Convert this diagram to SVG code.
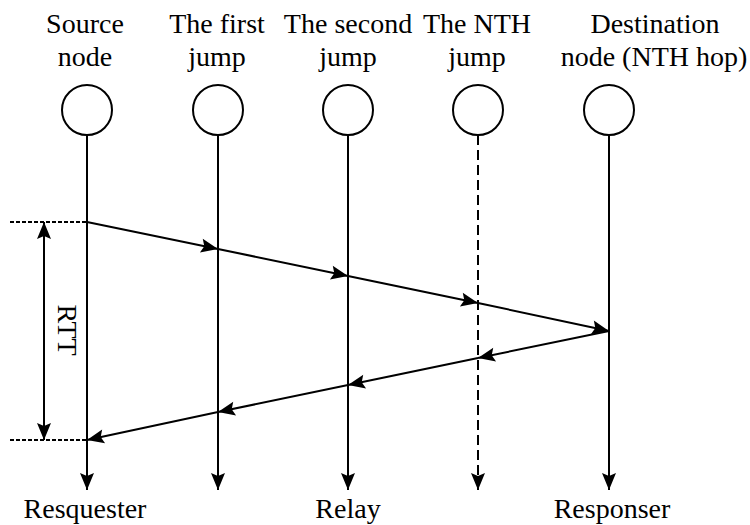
<svg xmlns="http://www.w3.org/2000/svg" width="750" height="525" viewBox="0 0 750 525">
<style>
.t{font-family:'Liberation Serif','DejaVu Serif',serif;font-size:28px;fill:#000;text-anchor:middle}
.c{fill:#fff;stroke:#000;stroke-width:2}
.l{stroke:#000;stroke-width:2;fill:none}
.d{stroke-dasharray:10 5}
.dot{stroke-dasharray:4 2}
</style>
<defs>
<marker id="ah" markerUnits="userSpaceOnUse" markerWidth="20" markerHeight="16" viewBox="-18 -8 20 16" refX="0" refY="0" orient="auto-start-reverse">
<path d="M0,0 L-17,-7 L-14,0 L-17,7 Z" fill="#000"/>
</marker>
</defs>
<rect width="750" height="525" fill="#fff"/>
<g id="n-source" class="t">
<text x="85" y="33">Source</text><text x="85" y="66">node</text>
<circle class="c" cx="87" cy="110" r="25"/>
</g>
<g id="n-first" class="t">
<text x="217" y="33">The first</text><text x="217" y="66">jump</text>
<circle class="c" cx="218" cy="110" r="25"/>
</g>
<g id="n-second" class="t">
<text x="348" y="33">The second</text><text x="348" y="66">jump</text>
<circle class="c" cx="348" cy="110" r="25"/>
</g>
<g id="n-nth" class="t">
<text x="477" y="33">The NTH</text><text x="477" y="66">jump</text>
<circle class="c" cx="478" cy="110" r="25"/>
</g>
<g id="n-dest" class="t">
<text x="655" y="33">Destination</text><text x="654" y="66">node (NTH hop)</text>
<circle class="c" cx="609" cy="110" r="25"/>
</g>
<g id="labels" class="t">
<text x="85" y="518">Resquester</text>
<text x="348" y="518">Relay</text>
<text x="612" y="518">Responser</text>
<text transform="translate(58,330) rotate(90)" x="0" y="0">RTT</text>
</g>
<g id="connectors">
<line class="l" x1="87" y1="135" x2="87" y2="490" marker-end="url(#ah)"/>
<line class="l" x1="218" y1="135" x2="218" y2="490" marker-end="url(#ah)"/>
<line class="l" x1="348" y1="135" x2="348" y2="490" marker-end="url(#ah)"/>
<line class="l d" x1="478" y1="135" x2="478" y2="490" marker-end="url(#ah)"/>
<line class="l" x1="609" y1="135" x2="609" y2="490" marker-end="url(#ah)"/>
<line class="l" x1="87" y1="222" x2="218" y2="249" marker-end="url(#ah)"/>
<line class="l" x1="218" y1="249" x2="348" y2="276" marker-end="url(#ah)"/>
<line class="l" x1="348" y1="276" x2="478" y2="303" marker-end="url(#ah)"/>
<line class="l" x1="478" y1="303" x2="609" y2="331" marker-end="url(#ah)"/>
<line class="l" x1="609" y1="331" x2="478" y2="358" marker-end="url(#ah)"/>
<line class="l" x1="478" y1="358" x2="348" y2="385" marker-end="url(#ah)"/>
<line class="l" x1="348" y1="385" x2="218" y2="412" marker-end="url(#ah)"/>
<line class="l" x1="218" y1="412" x2="87" y2="440" marker-end="url(#ah)"/>
<line class="l dot" x1="10" y1="222" x2="87" y2="222"/>
<line class="l dot" x1="10" y1="440" x2="87" y2="440"/>
<line class="l" x1="44" y1="222" x2="44" y2="440" marker-start="url(#ah)" marker-end="url(#ah)"/>
</g>
</svg>
